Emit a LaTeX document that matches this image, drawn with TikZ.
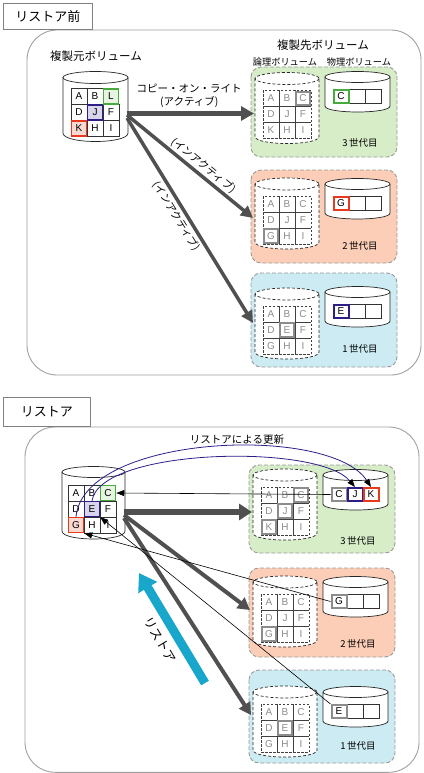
\documentclass[tikz,border=0pt]{standalone}
\usepackage{fontspec}
\setmainfont{Liberation Sans}
\newfontfamily\jp{Noto Sans CJK JP}
\usetikzlibrary{arrows.meta}
\definecolor{pgreen}{RGB}{214,237,200}
\definecolor{psalmon}{RGB}{252,206,183}
\definecolor{pblue}{RGB}{204,235,242}
\definecolor{cgreen}{RGB}{70,170,60}
\definecolor{cred}{RGB}{232,56,30}
\definecolor{cnavy}{RGB}{45,30,135}
\definecolor{cgray}{RGB}{140,140,140}
\definecolor{fgreen}{RGB}{232,244,226}
\definecolor{fred}{RGB}{250,218,208}
\definecolor{fnavy}{RGB}{216,214,236}
\definecolor{darrow}{RGB}{80,80,80}
\definecolor{cyanarrow}{RGB}{24,166,202}
\definecolor{framegray}{RGB}{160,160,160}

% cylinder: style, x1, x2, top centre y, top ry, side end y, bottom ry
\newcommand{\mycyl}[7]{%
  \fill[white] (#2,#4) -- (#2,#6) .. controls (#2,{#6+1.333*#7}) and (#3,{#6+1.333*#7}) .. (#3,#6) -- (#3,#4) -- cycle;
  \fill[white] ({(#2+#3)/2},#4) ellipse [x radius={(#3-#2)/2}, y radius=#5];
  \draw[#1] (#2,#4) -- (#2,#6) .. controls (#2,{#6+1.333*#7}) and (#3,{#6+1.333*#7}) .. (#3,#6) -- (#3,#4);
  \draw[#1] ({(#2+#3)/2},#4) ellipse [x radius={(#3-#2)/2}, y radius=#5];
}

% panel: prefix, top, bottom, logical top y, physical top y, fill, label, centre letter, lower-left letter
\newcommand{\volpanel}[9]{%
  \path[panelbox, fill=#6] (251,#2) rectangle (397,#3);
  \mycyl{logcyl}{255}{319}{#4}{6}{#4+58}{7}%
  \node[lcell] (#1-l1) at (271,{#4+20}) {A};
  \node[lcell] (#1-l2) at (287,{#4+20}) {B};
  \node[lcell] (#1-l3) at (303,{#4+20}) {C};
  \node[lcell] (#1-l4) at (271,{#4+36}) {D};
  \node[lcell] (#1-l5) at (287,{#4+36}) {#8};
  \node[lcell] (#1-l6) at (303,{#4+36}) {F};
  \node[lcell] (#1-l7) at (271,{#4+52}) {#9};
  \node[lcell] (#1-l8) at (287,{#4+52}) {H};
  \node[lcell] (#1-l9) at (303,{#4+52}) {I};
  \mycyl{physcyl}{325}{390}{#5}{5.5}{#5+29}{6}%
  \node[pcell] (#1-p1) at (341,{#5+19.5}) {};
  \node[pcell] (#1-p2) at (357,{#5+19.5}) {};
  \node[pcell] (#1-p3) at (373,{#5+19.5}) {};
  \node[genlabel] (#1-lab) at (360,{#2+75.5}) {#7};
}

\begin{document}
\begin{tikzpicture}[x=1pt,y=-1pt,
  titlebox/.style={draw=black!50, line width=0.9pt, fill=white, minimum width=89pt, minimum height=26pt, anchor=north west, inner sep=0pt, font=\jp\fontsize{13}{15}\selectfont},
  frame/.style={draw=framegray, line width=0.9pt, rounded corners=30pt},
  panelbox/.style={draw=black!40, dash pattern=on 4pt off 2pt, line width=0.9pt, rounded corners=10pt},
  logcyl/.style={draw=black!85, line width=0.7pt, dash pattern=on 3pt off 2pt},
  physcyl/.style={draw=black!85, line width=0.7pt},
  srccyl/.style={draw=black!85, line width=0.7pt},
  cellfont/.style={font=\fontsize{10}{12}\selectfont},
  scell/.style={draw=black!80, line width=0.6pt, fill=white, minimum size=16pt, inner sep=0pt, cellfont},
  shl/.style={scell, line width=1.5pt, minimum size=15pt},
  lcell/.style={draw=black!75, line width=0.6pt, dash pattern=on 2.5pt off 1.5pt, minimum width=16pt, minimum height=16pt, inner sep=0pt, text=black!45, cellfont},
  lhl/.style={draw=cgray, line width=2.2pt, fill=white, minimum size=13.5pt, inner sep=0pt, text=black!45, cellfont},
  pcell/.style={draw=black!80, line width=0.6pt, minimum width=16pt, minimum height=14pt, inner sep=0pt, cellfont},
  phl/.style={pcell, line width=2pt, minimum width=15pt, minimum height=13pt, fill=white},
  genlabel/.style={font=\jp\fontsize{9.5}{11}\selectfont, inner sep=0pt},
  heading/.style={font=\jp\fontsize{11.5}{13}\selectfont, inner sep=0pt},
  subheading/.style={font=\jp\fontsize{9.2}{11}\selectfont, inner sep=0pt},
  arrlabel/.style={font=\jp\fontsize{10.5}{13}\selectfont, inner sep=2pt},
  bigarrow/.style={draw=darrow, line width=5pt, -{Triangle[length=13pt,width=14pt]}},
  bigarrowb/.style={draw=darrow, line width=6pt, -{Triangle[length=13pt,width=16pt]}},
  midarrow/.style={draw=darrow, line width=3.5pt, -{Triangle[length=12pt,width=12pt]}},
  midarrowb/.style={draw=darrow, line width=4pt, -{Triangle[length=12pt,width=13pt]}},
  thinarrow/.style={draw=black, line width=0.6pt, -{Triangle[length=8pt,width=6pt]}},
  bluearrow/.style={draw=cnavy, line width=0.8pt, -{Triangle[length=8pt,width=6pt,color=black]}},
  restorearrow/.style={draw=cyanarrow, line width=9pt, -{Triangle[length=17pt,width=21pt]}}
]
\useasboundingbox (0,0) rectangle (423,773);

% ================= TOP: before restore =================
\draw[frame] (27,30) rectangle (421,375);
\node[titlebox] (ttl1) at (3,3) {リストア前};

\node[heading] (hsrc) at (96,56) {\jp 複製元ボリューム};
\node[heading] (hdst) at (323,45) {\jp 複製先ボリューム};
\node[subheading] (hlog) at (285,62) {\jp 論理ボリューム};
\node[subheading] (hphy) at (359,62) {\jp 物理ボリューム};

% source volume
\mycyl{srccyl}{63}{128}{77.5}{6}{133}{8.5}
\node[scell] (tA) at (79,96.5) {A};
\node[scell] (tB) at (95,96.5) {B};
\node[scell] (tD) at (79,112.5) {D};
\node[scell] (tF) at (111,112.5) {F};
\node[scell] (tH) at (95,128.5) {H};
\node[scell] (tI) at (111,128.5) {I};
\node[shl, draw=cgreen, fill=fgreen] (tL) at (111,96.5) {L};
\node[shl, draw=cnavy, fill=fnavy] (tJ) at (95,112.5) {J};
\node[shl, draw=cred, fill=fred] (tK) at (79,128.5) {K};

% destination panels
\volpanel{p1}{67}{157}{78.5}{77}{pgreen}{\jp 3\,世代目}{J}{K}
\volpanel{p2}{170}{263}{184}{184}{psalmon}{\jp 2\,世代目}{J}{G}
\volpanel{p3}{273}{367}{294}{292}{pblue}{\jp 1\,世代目}{E}{G}
\node[lhl] (p1-hC) at (p1-l3) {C};
\node[phl, draw=cgreen] (p1-hp) at (p1-p1) {C};
\node[lhl] (p2-hG) at (p2-l7) {G};
\node[phl, draw=cred] (p2-hp) at (p2-p1) {G};
\node[lhl] (p3-hE) at (p3-l5) {E};
\node[phl, draw=cnavy] (p3-hp) at (p3-p1) {E};

% copy-on-write arrows
\coordinate (so1) at (127,113.5);
\coordinate (so2) at (127,115);
\coordinate (so3) at (127,118);
\coordinate (t1) at (254,113.5);
\coordinate (t2) at (253,218);
\coordinate (t3) at (253,323);
\draw[bigarrow] (so1) -- node[arrlabel, above=1pt, pos=0.49, align=center] (lcow) {\jp コピー・オン・ライト\\\jp (アクティブ)} (t1);
\draw[midarrow] (so2) -- node[arrlabel, sloped, above, pos=0.56] (lin1) {\jp (インアクティブ)} (t2);
\draw[midarrow] (so3) -- node[arrlabel, sloped, below, pos=0.455] (lin2) {\jp (インアクティブ)} (t3);

% ================= BOTTOM: restore =================
\draw[frame] (25,427) rectangle (419,772.3);
\node[titlebox, minimum width=87pt, minimum height=29pt] (ttl2) at (3,397) {リストア};

\node[arrlabel] (hupd) at (237,440) {\jp リストアによる更新};

% source volume
\mycyl{srccyl}{62}{125}{472}{5.5}{531}{8}
\node[scell] (sA) at (76,493) {A};
\node[scell] (sB) at (92,493) {B};
\node[scell] (sD) at (76,509) {D};
\node[scell] (sF) at (108,509) {F};
\node[scell] (sH) at (92,525) {H};
\node[scell] (sI) at (108,525) {I};
\node[shl, draw=cgreen, fill=fgreen] (sC) at (108,493) {C};
\node[shl, draw=cnavy, fill=fnavy] (sE) at (92,509) {E};
\node[shl, draw=cred, fill=fred] (sG) at (76,525) {G};

\begin{scope}[xshift=-2pt]
\volpanel{q1}{465}{553}{475}{475}{pgreen}{\jp 3\,世代目}{J}{K}
\volpanel{q2}{568}{657}{582}{582}{psalmon}{\jp 2\,世代目}{J}{G}
\volpanel{q3}{670}{763}{692}{692}{pblue}{\jp 1\,世代目}{E}{G}
\end{scope}
\node[lhl] (q1-hC) at (q1-l3) {C};
\node[lhl] (q1-hJ) at (q1-l5) {J};
\node[lhl] (q1-hK) at (q1-l7) {K};
\node[phl, draw=cgray] (q1-pC) at (q1-p1) {C};
\node[phl, draw=cnavy] (q1-pJ) at (q1-p2) {J};
\node[phl, draw=cred] (q1-pK) at (q1-p3) {K};
\node[lhl] (q2-hG) at (q2-l7) {G};
\node[phl, draw=cgray] (q2-pG) at (q2-p1) {G};
\node[lhl] (q3-hE) at (q3-l5) {E};
\node[phl, draw=cgray] (q3-pE) at (q3-p1) {E};

% copy-on-write arrows
\coordinate (so4) at (124,512);
\coordinate (so5) at (124,515);
\coordinate (so6) at (124,518);
\coordinate (t4) at (252,512);
\coordinate (t5) at (250,610);
\coordinate (t6) at (251,715);
\draw[bigarrowb] (so4) -- (t4);
\draw[midarrowb] (so5) -- (t5);
\draw[midarrowb] (so6) -- (t6);

% restore data arrows
\draw[thinarrow] (q1-pC.west) -- (sC.east);
\draw[thinarrow] (q2-pG.west) -- (sG.south east);
\draw[thinarrow] (q3-pE.north west) -- (sE.south east);

% update by restore
\draw[bluearrow] (sG.north) .. controls (84,434) and (330,424) .. (q1-pK.north);
\draw[bluearrow] (sE.north) .. controls (100,448) and (318,443) .. (q1-pJ.north);

% restore big arrow
\coordinate (ra) at (205,683);
\coordinate (rb) at (139,573);
\draw[restorearrow] (ra) -- (rb);
\node[font=\jp\fontsize{12.5}{14}\selectfont, rotate=-59, inner sep=0pt] (rlab) at (160,640) {リストア};

\end{tikzpicture}
\end{document}
